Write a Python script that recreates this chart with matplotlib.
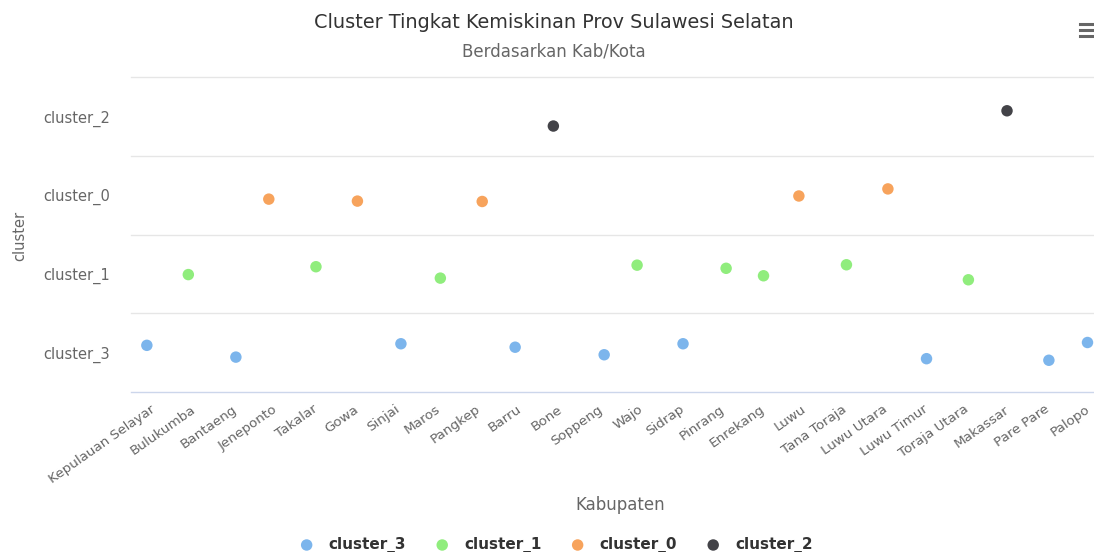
import numpy as np
import matplotlib
matplotlib.use("Agg")
import matplotlib.pyplot as plt
import matplotlib.transforms as mtransforms
from matplotlib.lines import Line2D

plt.rcParams['font.family'] = ['DejaVu Sans']

# data (Highcharts scatter with jitter)
kabupaten = ['Kepulauan Selayar', 'Bulukumba', 'Bantaeng', 'Jeneponto', 'Takalar', 'Gowa',
             'Sinjai', 'Maros', 'Pangkep', 'Barru', 'Bone', 'Soppeng', 'Wajo', 'Sidrap',
             'Pinrang', 'Enrekang', 'Luwu', 'Tana Toraja', 'Luwu Utara', 'Luwu Timur',
             'Toraja Utara', 'Makassar', 'Pare Pare', 'Palopo']
cluster = ['cluster_3', 'cluster_1', 'cluster_3', 'cluster_0', 'cluster_1', 'cluster_0',
           'cluster_3', 'cluster_1', 'cluster_0', 'cluster_3', 'cluster_2', 'cluster_3',
           'cluster_1', 'cluster_3', 'cluster_1', 'cluster_1', 'cluster_0', 'cluster_1',
           'cluster_0', 'cluster_3', 'cluster_1', 'cluster_2', 'cluster_3', 'cluster_3']
jitter_x = [-0.11, -0.09, 0.08, -0.11, 0.05, 0.07, 0.14, 0.11, 0.14, -0.05, -0.11, 0.14,
            -0.05, 0.08, 0.14, 0.06, -0.07, 0.10, 0.12, 0.07, 0.10, 0.05, 0.08, 0.03]
jitter_y = [0.09, -0.01, -0.06, -0.05, 0.09, -0.075, 0.11, -0.055, -0.08, 0.066, -0.12, -0.03,
            0.11, 0.11, 0.07, -0.025, -0.01, 0.115, 0.08, -0.08, -0.076, 0.074, -0.10, 0.126]

y_categories = ['cluster_3', 'cluster_1', 'cluster_0', 'cluster_2']
warna = {'cluster_3': '#7cb5ec', 'cluster_1': '#90ed7d', 'cluster_0': '#f7a35c', 'cluster_2': '#434348'}

W, H = 1094, 552
fig = plt.figure(figsize=(W / 100, H / 100), dpi=100)
ax = fig.add_axes([131 / W, (H - 391.7) / H, (1106.6 - 131) / W, (391.7 - 77.3) / H])

x_all = np.arange(len(kabupaten)) + np.array(jitter_x)
y_idx = np.array([y_categories.index(c) for c in cluster])
y_all = y_idx + np.array(jitter_y)

for c in y_categories:
    mask = np.array([k == c for k in cluster])
    ax.scatter(x_all[mask], y_all[mask], s=68, color=warna[c], edgecolors='none',
               zorder=3, clip_on=False, label=c)

ax.set_xlim(-0.5, len(kabupaten) - 0.5)
ax.set_ylim(-0.5, len(y_categories) - 0.5)

# garis grid di antara kategori
for yy in np.arange(-0.5, len(y_categories), 1.0)[1:]:
    ax.axhline(yy, color='#e6e6e6', lw=1.0, zorder=1, clip_on=False)

for s in ['top', 'right', 'left']:
    ax.spines[s].set_visible(False)
ax.spines['bottom'].set_color('#ccd6eb')
ax.spines['bottom'].set_linewidth(1.0)

ax.set_yticks(range(len(y_categories)))
ax.set_yticklabels(y_categories, fontsize=10.5, color='#666666')
ax.tick_params(axis='y', length=0, pad=15)

ax.set_xticks(range(len(kabupaten)))
ax.set_xticklabels(kabupaten, rotation=35, ha='right', va='top', rotation_mode='anchor',
                   fontsize=9.7, color='#666666')
ax.tick_params(axis='x', length=0, pad=8)
geser = mtransforms.ScaledTranslation(-1 / 100, 0, fig.dpi_scale_trans)
for lbl in ax.get_xticklabels():
    lbl.set_transform(lbl.get_transform() + geser)

fig.text(20 / W, 1 - 236 / H, 'cluster', rotation=90, ha='center', va='center',
         fontsize=10.5, color='#666666')
fig.text(620 / W, 1 - 505 / H, 'Kabupaten', ha='center', va='center',
         fontsize=12, color='#666666')

fig.text(554 / W, 1 - 22 / H, 'Cluster Tingkat Kemiskinan Prov Sulawesi Selatan',
         ha='center', va='center', fontsize=13.9, color='#333333')
fig.text(554 / W, 1 - 51 / H, 'Berdasarkan Kab/Kota', ha='center', va='center',
         fontsize=12, color='#666666')

leg = fig.legend(loc='center', bbox_to_anchor=(556 / W, 1 - 545 / H), ncol=4, frameon=False,
                 markerscale=1.0, handletextpad=0.95, columnspacing=1.85, handlelength=1.0,
                 prop={'weight': 'bold', 'size': 11})
for t in leg.get_texts():
    t.set_color('#333333')

# ikon menu di kanan atas
for yy in [24, 30, 36]:
    fig.add_artist(Line2D([1080 / W, 1094 / W], [1 - yy / H, 1 - yy / H],
                          color='#666666', lw=2.2, transform=fig.transFigure))

fig.savefig('out.png', dpi=100)
